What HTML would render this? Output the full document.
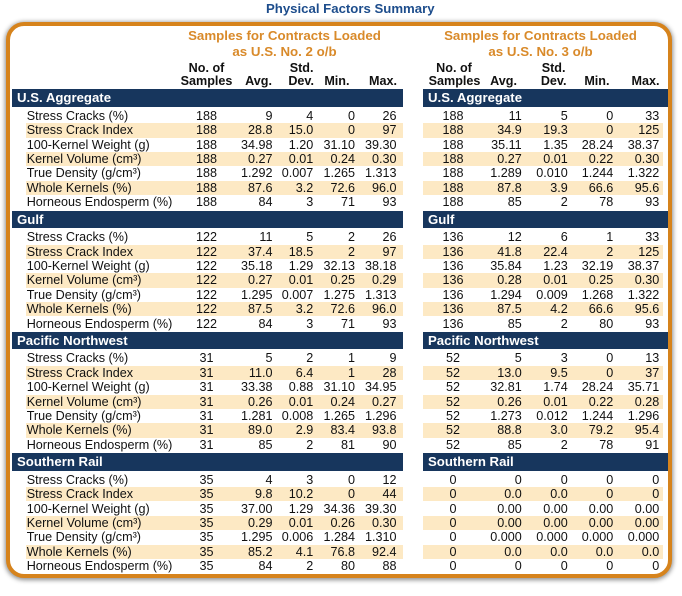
<!DOCTYPE html>
<html><head><meta charset="utf-8">
<style>
*{margin:0;padding:0}
body{width:682px;height:596px;background:#fff;position:relative;overflow:hidden;font-family:"Liberation Sans",Arial,sans-serif;color:#111}
.frame{position:absolute;left:6px;top:22px;width:666px;height:556px;box-sizing:border-box;border:4px solid #d6831c;border-radius:18px;box-shadow:0 1px 5px 1px rgba(0,0,0,0.45);background:#fff}
.t{position:absolute;white-space:nowrap;text-align:center;font-weight:bold}
.ttl{left:250.3px;width:200px;top:1.3px;line-height:16px;font-size:13.2px;color:#1d4d8c}
.or{font-size:13.3px;color:#d98a2a;line-height:16px;width:260px}
.h{font-size:12.6px;line-height:14px;color:#111}
.hr{position:absolute;white-space:nowrap;font-weight:bold;font-size:12.6px;line-height:14px;color:#111}
.b{position:absolute;height:17.5px;background:#17365d;color:#fff;font-weight:bold;font-size:13.2px;line-height:17.5px;padding-left:5px;box-sizing:border-box;white-space:nowrap}
.bl{left:12px;width:391.3px}
.br{left:423px;width:245px}
.r{position:absolute;left:0;width:682px;height:14.4px;font-size:12.6px}
.r span{position:absolute;top:0;line-height:14.4px;white-space:nowrap;z-index:1}
.z::before{content:"";position:absolute;left:26px;width:377px;top:0;height:100%;background:#fde9c4}
.z::after{content:"";position:absolute;left:423px;width:240px;top:0;height:100%;background:#fde9c4}
.l{left:26.7px}
.c1{left:186.5px;width:40px;text-align:center}
.a1{right:409.5px}
.s1{right:368.7px}
.m1{right:327px}
.x1{right:285.5px}
.c2{left:433px;width:40px;text-align:center}
.a2{right:160.3px}
.s2{right:114.3px}
.m2{right:68.7px}
.x2{right:22.7px}
</style></head><body>
<div class="frame"></div>
<div class="t ttl">Physical Factors Summary</div>

<div class="t or" style="left:154.5px;top:28px">Samples for Contracts Loaded</div>
<div class="t or" style="left:154.5px;top:43.7px">as U.S. No. 2 o/b</div>
<div class="t or" style="left:410.5px;top:28px">Samples for Contracts Loaded</div>
<div class="t or" style="left:410.5px;top:43.7px">as U.S. No. 3 o/b</div>

<div class="t h" style="left:166.5px;width:80px;top:61px">No. of</div>
<div class="t h" style="left:166.5px;width:80px;top:74px">Samples</div>
<div class="hr" style="right:410px;top:74px">Avg.</div>
<div class="hr" style="right:368.5px;top:61px">Std.</div>
<div class="hr" style="right:368px;top:74px">Dev.</div>
<div class="hr" style="right:332.5px;top:74px">Min.</div>
<div class="hr" style="right:285px;top:74px">Max.</div>

<div class="t h" style="left:414px;width:80px;top:61px">No. of</div>
<div class="t h" style="left:414.5px;width:80px;top:74px">Samples</div>
<div class="hr" style="right:165px;top:74px">Avg.</div>
<div class="hr" style="right:116.5px;top:61px">Std.</div>
<div class="hr" style="right:115.5px;top:74px">Dev.</div>
<div class="hr" style="right:72.5px;top:74px">Min.</div>
<div class="hr" style="right:22.5px;top:74px">Max.</div>

<!-- Section 1 -->
<div class="b bl" style="top:89.3px">U.S. Aggregate</div>
<div class="b br" style="top:89.3px">U.S. Aggregate</div>
<div class="r" style="top:108.8px"><span class="l">Stress Cracks (%)</span><span class="c1">188</span><span class="a1">9</span><span class="s1">4</span><span class="m1">0</span><span class="x1">26</span><span class="c2">188</span><span class="a2">11</span><span class="s2">5</span><span class="m2">0</span><span class="x2">33</span></div>
<div class="r z" style="top:123.2px"><span class="l">Stress Crack Index</span><span class="c1">188</span><span class="a1">28.8</span><span class="s1">15.0</span><span class="m1">0</span><span class="x1">97</span><span class="c2">188</span><span class="a2">34.9</span><span class="s2">19.3</span><span class="m2">0</span><span class="x2">125</span></div>
<div class="r" style="top:137.6px"><span class="l">100-Kernel Weight (g)</span><span class="c1">188</span><span class="a1">34.98</span><span class="s1">1.20</span><span class="m1">31.10</span><span class="x1">39.30</span><span class="c2">188</span><span class="a2">35.11</span><span class="s2">1.35</span><span class="m2">28.24</span><span class="x2">38.37</span></div>
<div class="r z" style="top:152px"><span class="l">Kernel Volume (cm³)</span><span class="c1">188</span><span class="a1">0.27</span><span class="s1">0.01</span><span class="m1">0.24</span><span class="x1">0.30</span><span class="c2">188</span><span class="a2">0.27</span><span class="s2">0.01</span><span class="m2">0.22</span><span class="x2">0.30</span></div>
<div class="r" style="top:166.4px"><span class="l">True Density (g/cm³)</span><span class="c1">188</span><span class="a1">1.292</span><span class="s1">0.007</span><span class="m1">1.265</span><span class="x1">1.313</span><span class="c2">188</span><span class="a2">1.289</span><span class="s2">0.010</span><span class="m2">1.244</span><span class="x2">1.322</span></div>
<div class="r z" style="top:180.8px"><span class="l">Whole Kernels (%)</span><span class="c1">188</span><span class="a1">87.6</span><span class="s1">3.2</span><span class="m1">72.6</span><span class="x1">96.0</span><span class="c2">188</span><span class="a2">87.8</span><span class="s2">3.9</span><span class="m2">66.6</span><span class="x2">95.6</span></div>
<div class="r" style="top:195.2px"><span class="l">Horneous Endosperm (%)</span><span class="c1">188</span><span class="a1">84</span><span class="s1">3</span><span class="m1">71</span><span class="x1">93</span><span class="c2">188</span><span class="a2">85</span><span class="s2">2</span><span class="m2">78</span><span class="x2">93</span></div>

<!-- Section 2 -->
<div class="b bl" style="top:210.6px">Gulf</div>
<div class="b br" style="top:210.6px">Gulf</div>
<div class="r" style="top:230.1px"><span class="l">Stress Cracks (%)</span><span class="c1">122</span><span class="a1">11</span><span class="s1">5</span><span class="m1">2</span><span class="x1">26</span><span class="c2">136</span><span class="a2">12</span><span class="s2">6</span><span class="m2">1</span><span class="x2">33</span></div>
<div class="r z" style="top:244.5px"><span class="l">Stress Crack Index</span><span class="c1">122</span><span class="a1">37.4</span><span class="s1">18.5</span><span class="m1">2</span><span class="x1">97</span><span class="c2">136</span><span class="a2">41.8</span><span class="s2">22.4</span><span class="m2">2</span><span class="x2">125</span></div>
<div class="r" style="top:258.9px"><span class="l">100-Kernel Weight (g)</span><span class="c1">122</span><span class="a1">35.18</span><span class="s1">1.29</span><span class="m1">32.13</span><span class="x1">38.18</span><span class="c2">136</span><span class="a2">35.84</span><span class="s2">1.23</span><span class="m2">32.19</span><span class="x2">38.37</span></div>
<div class="r z" style="top:273.3px"><span class="l">Kernel Volume (cm³)</span><span class="c1">122</span><span class="a1">0.27</span><span class="s1">0.01</span><span class="m1">0.25</span><span class="x1">0.29</span><span class="c2">136</span><span class="a2">0.28</span><span class="s2">0.01</span><span class="m2">0.25</span><span class="x2">0.30</span></div>
<div class="r" style="top:287.7px"><span class="l">True Density (g/cm³)</span><span class="c1">122</span><span class="a1">1.295</span><span class="s1">0.007</span><span class="m1">1.275</span><span class="x1">1.313</span><span class="c2">136</span><span class="a2">1.294</span><span class="s2">0.009</span><span class="m2">1.268</span><span class="x2">1.322</span></div>
<div class="r z" style="top:302.1px"><span class="l">Whole Kernels (%)</span><span class="c1">122</span><span class="a1">87.5</span><span class="s1">3.2</span><span class="m1">72.6</span><span class="x1">96.0</span><span class="c2">136</span><span class="a2">87.5</span><span class="s2">4.2</span><span class="m2">66.6</span><span class="x2">95.6</span></div>
<div class="r" style="top:316.5px"><span class="l">Horneous Endosperm (%)</span><span class="c1">122</span><span class="a1">84</span><span class="s1">3</span><span class="m1">71</span><span class="x1">93</span><span class="c2">136</span><span class="a2">85</span><span class="s2">2</span><span class="m2">80</span><span class="x2">93</span></div>

<!-- Section 3 -->
<div class="b bl" style="top:331.9px">Pacific Northwest</div>
<div class="b br" style="top:331.9px">Pacific Northwest</div>
<div class="r" style="top:351.4px"><span class="l">Stress Cracks (%)</span><span class="c1">31</span><span class="a1">5</span><span class="s1">2</span><span class="m1">1</span><span class="x1">9</span><span class="c2">52</span><span class="a2">5</span><span class="s2">3</span><span class="m2">0</span><span class="x2">13</span></div>
<div class="r z" style="top:365.8px"><span class="l">Stress Crack Index</span><span class="c1">31</span><span class="a1">11.0</span><span class="s1">6.4</span><span class="m1">1</span><span class="x1">28</span><span class="c2">52</span><span class="a2">13.0</span><span class="s2">9.5</span><span class="m2">0</span><span class="x2">37</span></div>
<div class="r" style="top:380.2px"><span class="l">100-Kernel Weight (g)</span><span class="c1">31</span><span class="a1">33.38</span><span class="s1">0.88</span><span class="m1">31.10</span><span class="x1">34.95</span><span class="c2">52</span><span class="a2">32.81</span><span class="s2">1.74</span><span class="m2">28.24</span><span class="x2">35.71</span></div>
<div class="r z" style="top:394.6px"><span class="l">Kernel Volume (cm³)</span><span class="c1">31</span><span class="a1">0.26</span><span class="s1">0.01</span><span class="m1">0.24</span><span class="x1">0.27</span><span class="c2">52</span><span class="a2">0.26</span><span class="s2">0.01</span><span class="m2">0.22</span><span class="x2">0.28</span></div>
<div class="r" style="top:409px"><span class="l">True Density (g/cm³)</span><span class="c1">31</span><span class="a1">1.281</span><span class="s1">0.008</span><span class="m1">1.265</span><span class="x1">1.296</span><span class="c2">52</span><span class="a2">1.273</span><span class="s2">0.012</span><span class="m2">1.244</span><span class="x2">1.296</span></div>
<div class="r z" style="top:423.4px"><span class="l">Whole Kernels (%)</span><span class="c1">31</span><span class="a1">89.0</span><span class="s1">2.9</span><span class="m1">83.4</span><span class="x1">93.8</span><span class="c2">52</span><span class="a2">88.8</span><span class="s2">3.0</span><span class="m2">79.2</span><span class="x2">95.4</span></div>
<div class="r" style="top:437.8px"><span class="l">Horneous Endosperm (%)</span><span class="c1">31</span><span class="a1">85</span><span class="s1">2</span><span class="m1">81</span><span class="x1">90</span><span class="c2">52</span><span class="a2">85</span><span class="s2">2</span><span class="m2">78</span><span class="x2">91</span></div>

<!-- Section 4 -->
<div class="b bl" style="top:453.2px">Southern Rail</div>
<div class="b br" style="top:453.2px">Southern Rail</div>
<div class="r" style="top:472.7px"><span class="l">Stress Cracks (%)</span><span class="c1">35</span><span class="a1">4</span><span class="s1">3</span><span class="m1">0</span><span class="x1">12</span><span class="c2">0</span><span class="a2">0</span><span class="s2">0</span><span class="m2">0</span><span class="x2">0</span></div>
<div class="r z" style="top:487.1px"><span class="l">Stress Crack Index</span><span class="c1">35</span><span class="a1">9.8</span><span class="s1">10.2</span><span class="m1">0</span><span class="x1">44</span><span class="c2">0</span><span class="a2">0.0</span><span class="s2">0.0</span><span class="m2">0</span><span class="x2">0</span></div>
<div class="r" style="top:501.5px"><span class="l">100-Kernel Weight (g)</span><span class="c1">35</span><span class="a1">37.00</span><span class="s1">1.29</span><span class="m1">34.36</span><span class="x1">39.30</span><span class="c2">0</span><span class="a2">0.00</span><span class="s2">0.00</span><span class="m2">0.00</span><span class="x2">0.00</span></div>
<div class="r z" style="top:515.9px"><span class="l">Kernel Volume (cm³)</span><span class="c1">35</span><span class="a1">0.29</span><span class="s1">0.01</span><span class="m1">0.26</span><span class="x1">0.30</span><span class="c2">0</span><span class="a2">0.00</span><span class="s2">0.00</span><span class="m2">0.00</span><span class="x2">0.00</span></div>
<div class="r" style="top:530.3px"><span class="l">True Density (g/cm³)</span><span class="c1">35</span><span class="a1">1.295</span><span class="s1">0.006</span><span class="m1">1.284</span><span class="x1">1.310</span><span class="c2">0</span><span class="a2">0.000</span><span class="s2">0.000</span><span class="m2">0.000</span><span class="x2">0.000</span></div>
<div class="r z" style="top:544.7px"><span class="l">Whole Kernels (%)</span><span class="c1">35</span><span class="a1">85.2</span><span class="s1">4.1</span><span class="m1">76.8</span><span class="x1">92.4</span><span class="c2">0</span><span class="a2">0.0</span><span class="s2">0.0</span><span class="m2">0.0</span><span class="x2">0.0</span></div>
<div class="r" style="top:559.1px"><span class="l">Horneous Endosperm (%)</span><span class="c1">35</span><span class="a1">84</span><span class="s1">2</span><span class="m1">80</span><span class="x1">88</span><span class="c2">0</span><span class="a2">0</span><span class="s2">0</span><span class="m2">0</span><span class="x2">0</span></div>
</body></html>
